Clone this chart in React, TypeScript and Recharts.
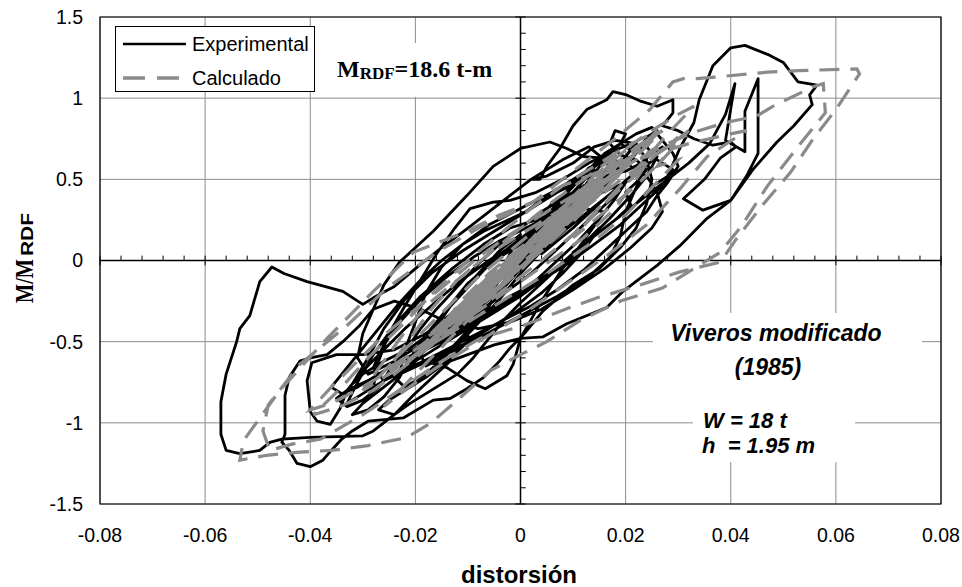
import {
  ComposedChart,
  Line,
  XAxis,
  YAxis,
  CartesianGrid,
  ReferenceLine,
  ReferenceArea,
  Legend,
} from "recharts";

type Pt = [number, number];

// axis ticks
const xTicks = [-0.08, -0.06, -0.04, -0.02, 0, 0.02, 0.04, 0.06, 0.08];
const yTicks = [-1.5, -1, -0.5, 0, 0.5, 1, 1.5];

// experimental (drift, M/M_RDF)
const expEarly: Pt[] = [
  [0, 0], [0.002, 0.09], [0.004, 0.19], [0.006, 0.27], [0.007, 0.33], [0.005, 0.28], [0.002, 0.15],
  [-0.001, 0.01], [-0.004, -0.12], [-0.006, -0.22], [-0.008, -0.31], [-0.006, -0.27], [-0.003, -0.15],
  [0, -0.03], [0.003, 0.12], [0.006, 0.25], [0.009, 0.37], [0.011, 0.43], [0.008, 0.36], [0.004, 0.2],
  [0, 0.04], [-0.005, -0.15], [-0.009, -0.3], [-0.012, -0.4], [-0.009, -0.35], [-0.005, -0.2], [-0.001, -0.05],
];

const expCycles: Pt[] = [
  [0.003, 0.1], [0.007, 0.25], [0.01, 0.36], [0.013, 0.46], [0.015, 0.5], [0.017, 0.57], [0.016, 0.62],
  [0.013, 0.57], [0.011, 0.5], [0.008, 0.4], [0.005, 0.27], [0.002, 0.14], [-0.002, 0], [-0.006, -0.16],
  [-0.01, -0.3], [-0.014, -0.42], [-0.017, -0.5], [-0.019, -0.58], [-0.018, -0.65], [-0.015, -0.6],
  [-0.012, -0.5], [-0.008, -0.36], [-0.004, -0.2], [0, -0.05], [0.004, 0.1], [0.008, 0.24], [0.012, 0.38],
  [0.016, 0.5], [0.019, 0.6], [0.021, 0.68], [0.019, 0.72], [0.016, 0.66], [0.013, 0.56], [0.009, 0.42],
  [0.005, 0.26], [0.001, 0.1], [-0.003, -0.06], [-0.008, -0.24], [-0.013, -0.4], [-0.017, -0.52],
  [-0.021, -0.64], [-0.024, -0.72], [-0.022, -0.78], [-0.018, -0.7], [-0.014, -0.58], [-0.009, -0.42],
  [-0.004, -0.24], [0, -0.08], [0.004, 0.06],
];

const expWide: Pt[] = [
  [0.009, 0.2], [0.014, 0.33], [0.019, 0.46], [0.023, 0.56], [0.026, 0.64], [0.024, 0.52], [0.021, 0.4],
  [0.017, 0.26], [0.012, 0.1], [0.007, -0.04], [0.002, -0.16], [-0.004, -0.3], [-0.01, -0.42],
  [-0.016, -0.54], [-0.021, -0.64], [-0.025, -0.72], [-0.028, -0.78], [-0.027, -0.62], [-0.025, -0.45],
  [-0.022, -0.28], [-0.019, -0.12], [-0.016, 0.04], [-0.0125, 0.2], [-0.0096, 0.32], [-0.0052, 0.36],
  [-0.002, 0.37], [0.003, 0.42], [0.008, 0.5], [0.013, 0.6], [0.018, 0.68], [0.022, 0.73], [0.02, 0.64],
  [0.016, 0.5], [0.012, 0.36], [0.007, 0.2], [0.002, 0.04], [-0.004, -0.12], [-0.01, -0.28],
  [-0.016, -0.42], [-0.021, -0.54], [-0.026, -0.62], [-0.03, -0.7], [-0.032, -0.76], [-0.029, -0.6],
  [-0.026, -0.42], [-0.022, -0.24], [-0.017, -0.08], [-0.011, 0.06], [-0.005, 0.18], [0.001, 0.3],
  [0.007, 0.42], [0.012, 0.5], [0.016, 0.55], [0.019, 0.6], [0.017, 0.5], [0.014, 0.38], [0.01, 0.25],
  [0.005, 0.1],
];

const expFat: Pt[] = [
  [0.004, 0.04], [0.01, 0.2], [0.016, 0.38], [0.021, 0.52], [0.024, 0.6], [0.022, 0.45], [0.02, 0.3],
  [0.019, 0.15], [0.017, 0.02], [0.013, -0.1], [0.007, -0.22], [0, -0.34], [-0.007, -0.46], [-0.013, -0.56],
  [-0.019, -0.64], [-0.023, -0.7], [-0.022, -0.55], [-0.02, -0.38], [-0.018, -0.2], [-0.015, -0.04],
  [-0.011, 0.1], [-0.006, 0.22], [0, 0.32], [0.006, 0.42], [0.011, 0.5], [0.014, 0.56], [0.01, 0.42],
  [0.006, 0.28], [0.002, 0.12], [-0.003, -0.04], [-0.007, -0.2], [-0.01, -0.36], [-0.01, -0.5],
  [-0.014, -0.62], [-0.018, -0.72], [-0.022, -0.8], [-0.025, -0.86], [-0.027, -0.92], [-0.024, -0.95],
  [-0.021, -0.88], [-0.017, -0.8], [-0.012, -0.7], [-0.009, -0.6], [-0.006, -0.48], [-0.003, -0.36],
  [0, -0.26], [0.004, -0.14], [0.008, -0.02], [0.012, 0.1], [0.015, 0.2], [0.012, 0.06], [0.008, -0.08],
  [0.004, -0.2], [-0.001, -0.32], [-0.006, -0.42], [-0.011, -0.52], [-0.016, -0.58], [-0.021, -0.66],
  [-0.026, -0.74], [-0.028, -0.66], [-0.026, -0.52], [-0.023, -0.38], [-0.019, -0.24], [-0.014, -0.1],
  [-0.009, 0.02], [-0.004, 0.12], [0.001, 0.2], [0.006, 0.28], [0.01, 0.34],
];

const expJagged: Pt[] = [
  [0.003, 0.25], [0.006, 0.35], [0.009, 0.42], [0.011, 0.5], [0.013, 0.55], [0.015, 0.6], [0.017, 0.66],
  [0.019, 0.72], [0.02, 0.78], [0.018, 0.8], [0.017, 0.72], [0.019, 0.65], [0.022, 0.62], [0.024, 0.56],
  [0.022, 0.48], [0.02, 0.42], [0.021, 0.34], [0.018, 0.25], [0.014, 0.15], [0.01, 0.02], [0.005, -0.1],
  [0, -0.22], [-0.005, -0.32], [-0.01, -0.42], [-0.015, -0.5], [-0.02, -0.58], [-0.025, -0.66],
  [-0.029, -0.74], [-0.033, -0.8], [-0.035, -0.85], [-0.033, -0.9], [-0.03, -0.86], [-0.027, -0.78],
  [-0.025, -0.68], [-0.022, -0.56], [-0.019, -0.42], [-0.016, -0.3], [-0.012, -0.16], [-0.008, -0.02],
  [-0.004, 0.1], [0, 0.2], [0.004, 0.3], [0.008, 0.38], [0.012, 0.46], [0.016, 0.52], [0.02, 0.55],
  [0.023, 0.6], [0.025, 0.66], [0.027, 0.7], [0.024, 0.64], [0.021, 0.52], [0.018, 0.4], [0.014, 0.28],
  [0.01, 0.16], [0.006, 0.04], [0.002, -0.08], [-0.003, -0.2], [-0.008, -0.32], [-0.013, -0.44],
  [-0.018, -0.54], [-0.023, -0.62], [-0.027, -0.7], [-0.031, -0.78], [-0.034, -0.82], [-0.036, -0.78],
  [-0.034, -0.7], [-0.032, -0.62], [-0.029, -0.5], [-0.026, -0.38], [-0.023, -0.26], [-0.019, -0.12],
  [-0.015, 0], [-0.011, 0.1], [-0.007, 0.18], [-0.003, 0.24], [0.001, 0.3], [0.005, 0.4], [0.009, 0.48],
  [0.013, 0.56], [0.016, 0.64], [0.018, 0.7],
];

const expJagged2: Pt[] = [
  [0.022, 0.78], [0.025, 0.82], [0.027, 0.74], [0.029, 0.66], [0.03, 0.58], [0.028, 0.48], [0.026, 0.4],
  [0.024, 0.3], [0.02, 0.18], [0.016, 0.06], [0.012, -0.06], [0.007, -0.18], [0.002, -0.28],
  [-0.004, -0.38], [-0.01, -0.48], [-0.016, -0.58], [-0.022, -0.68], [-0.026, -0.78], [-0.03, -0.88],
  [-0.032, -0.95], [-0.029, -0.92], [-0.026, -0.84], [-0.023, -0.72], [-0.021, -0.6], [-0.018, -0.48],
  [-0.015, -0.34], [-0.011, -0.2], [-0.007, -0.06], [-0.003, 0.06], [0.001, 0.16], [0.005, 0.24],
  [0.009, 0.32], [0.013, 0.38], [0.017, 0.44], [0.02, 0.48], [0.018, 0.38], [0.015, 0.26], [0.011, 0.12],
  [0.007, 0], [0.003, -0.12], [-0.002, -0.24], [-0.007, -0.34], [-0.012, -0.44], [-0.017, -0.52],
  [-0.021, -0.6], [-0.018, -0.46], [-0.014, -0.3], [-0.01, -0.14], [-0.005, 0], [0, 0.1], [0.004, 0.2],
  [0.008, 0.3], [0.012, 0.38], [0.015, 0.46], [0.018, 0.54], [0.021, 0.62], [0.023, 0.7], [0.024, 0.76],
  [0.026, 0.8], [0.024, 0.7], [0.026, 0.62], [0.029, 0.56], [0.027, 0.46], [0.023, 0.34], [0.019, 0.22],
  [0.014, 0.1], [0.009, -0.02], [0.004, -0.12], [-0.002, -0.22], [-0.008, -0.34], [-0.013, -0.44],
  [-0.018, -0.48], [-0.015, -0.36], [-0.012, -0.22], [-0.008, -0.08], [-0.004, 0.06], [0, 0.16],
];

const expUpperLeft: Pt[] = [
  [-0.006, -0.2], [-0.012, -0.36], [-0.018, -0.5], [-0.024, -0.62], [-0.029, -0.7],
  [-0.031, -0.6], [-0.03, -0.45], [-0.028, -0.3], [-0.026, -0.15], [-0.023, -0.01], [-0.0166, 0.18],
  [-0.0102, 0.4], [-0.0052, 0.58], [0, 0.69], [0.0056, 0.73], [0.0088, 0.69], [0.012, 0.64],
  [0.016, 0.63], [0.02, 0.6], [0.024, 0.52], [0.026, 0.42], [0.027, 0.3], [0.025, 0.2], [0.021, 0.08],
  [0.016, -0.05], [0.01, -0.18], [0.004, -0.3], [-0.002, -0.38], [-0.008, -0.42], [-0.014, -0.38],
  [-0.019, -0.3], [-0.024, -0.25],
];

const expBottomLoop: Pt[] = [
  [-0.028, -0.3], [-0.0306, -0.4], [-0.0338, -0.5], [-0.0368, -0.58], [-0.04, -0.6], [-0.042, -0.62],
  [-0.044, -0.72], [-0.0448, -0.83], [-0.0448, -0.95], [-0.0448, -1.07], [-0.0454, -1.12], [-0.044, -1.17],
  [-0.0425, -1.25], [-0.04, -1.27], [-0.0376, -1.23], [-0.036, -1.17], [-0.034, -1.1], [-0.032, -1.05],
  [-0.029, -0.99], [-0.0223, -0.97], [-0.0166, -0.86], [-0.0134, -0.85], [-0.0102, -0.79], [-0.007, -0.72],
  [-0.004, -0.62], [-0.002, -0.54], [0.001, -0.44], [0.0043, -0.31], [0.01, -0.15], [0.015, -0.05],
  [0.019, 0.08], [0.022, 0.2], [0.024, 0.35], [0.025, 0.5], [0.024, 0.62], [0.022, 0.72],
];

const expTopLoops: Pt[] = [
  [0.018, 0.74], [0.014, 0.7], [0.01, 0.6], [0.005, 0.52], [0.002, 0.5], [0.0037, 0.5], [0.005, 0.58],
  [0.0075, 0.69], [0.01, 0.83], [0.0126, 0.93], [0.0164, 0.99], [0.0176, 1.04], [0.0202, 1.02],
  [0.023, 0.98], [0.026, 0.95], [0.029, 0.99], [0.029, 0.91], [0.027, 0.83], [0.03, 0.8], [0.033, 0.75],
  [0.0366, 0.71], [0.04, 0.73], [0.041, 0.7], [0.038, 0.63], [0.035, 0.5], [0.031, 0.38], [0.0347, 0.31],
  [0.04, 0.37], [0.043, 0.52], [0.0452, 0.66], [0.0452, 1.12], [0.0427, 0.92], [0.0427, 0.67],
  [0.039, 0.74], [0.0408, 1.09], [0.039, 0.9], [0.036, 0.72], [0.032, 0.6], [0.028, 0.5], [0.022, 0.35],
  [0.016, 0.2], [0.01, 0.05],
];

const expBigCycle: Pt[] = [
  [0.014, 0.15], [0.018, 0.25], [0.022, 0.35], [0.0252, 0.46], [0.028, 0.52], [0.0303, 0.69], [0.033, 0.85],
  [0.034, 0.99], [0.0366, 1.2], [0.04, 1.31], [0.0427, 1.325], [0.047, 1.27], [0.05, 1.22], [0.0528, 1.1],
  [0.0564, 1.08], [0.055, 1.02], [0.0555, 0.96], [0.052, 0.83], [0.0488, 0.73], [0.0442, 0.56],
  [0.04, 0.37], [0.0355, 0.26], [0.0303, 0.09], [0.026, -0.03], [0.0195, -0.19], [0.0164, -0.29],
  [0.0088, -0.39], [0.0043, -0.47], [0, -0.48], [-0.005, -0.52], [-0.0134, -0.62], [-0.0204, -0.83],
  [-0.024, -0.95], [-0.028, -1.05], [-0.03, -1.08], [-0.04, -1.09], [-0.0454, -1.1], [-0.0477, -1.12],
  [-0.0496, -1.17], [-0.0534, -1.19], [-0.056, -1.17], [-0.057, -1.07], [-0.057, -0.87], [-0.056, -0.7],
  [-0.054, -0.5], [-0.0534, -0.42], [-0.0515, -0.34], [-0.0496, -0.13], [-0.0473, -0.04], [-0.045, -0.08],
  [-0.0406, -0.13], [-0.0338, -0.19], [-0.03, -0.27], [-0.028, -0.23], [-0.024, -0.16], [-0.02, -0.05],
  [-0.015, 0.08], [-0.01, 0.2], [-0.004, 0.35], [0.002, 0.5], [0.008, 0.62], [0.013, 0.7], [0.016, 0.62],
  [0.012, 0.45], [0.006, 0.25], [0, 0.05],
];

const expLate: Pt[] = [
  [-0.006, -0.12], [-0.012, -0.3], [-0.018, -0.45], [-0.024, -0.55], [-0.03, -0.58], [-0.035, -0.58],
  [-0.0397, -0.63], [-0.0406, -0.74], [-0.04, -0.93], [-0.0387, -0.99], [-0.0362, -1.01], [-0.0343, -0.91],
  [-0.033, -0.8], [-0.03, -0.68], [-0.026, -0.55], [-0.022, -0.42], [-0.017, -0.28], [-0.012, -0.14],
  [-0.006, 0], [0, 0.12], [0.006, 0.24], [0.012, 0.32], [0.016, 0.3], [0.012, 0.12], [0.008, -0.05],
  [0.004, -0.25], [0, -0.48], [-0.0014, -0.64], [-0.0026, -0.71], [-0.0067, -0.79], [-0.0102, -0.74],
  [-0.014, -0.66], [-0.018, -0.62], [-0.022, -0.66], [-0.026, -0.74], [-0.03, -0.82], [-0.033, -0.88],
  [-0.031, -0.75], [-0.028, -0.58], [-0.024, -0.4], [-0.019, -0.22], [-0.013, -0.05], [-0.007, 0.1],
  [-0.002, 0.2], [0.003, 0.25],
];

// calculated (model) response
const calcEarly: Pt[] = [
  [0, 0], [0.003, 0.12], [0.006, 0.24], [0.008, 0.31], [0.005, 0.2], [0, 0.02], [-0.004, -0.12],
  [-0.008, -0.26], [-0.01, -0.32], [-0.006, -0.18], [-0.001, 0], [0.004, 0.18], [0.009, 0.34],
  [0.012, 0.44], [0.008, 0.32], [0.002, 0.1], [-0.004, -0.1], [-0.009, -0.28], [-0.013, -0.42],
  [-0.009, -0.28], [-0.003, -0.06], [0.003, 0.14], [0.009, 0.34], [0.014, 0.5], [0.016, 0.56],
  [0.011, 0.42], [0.005, 0.22], [-0.001, 0.02], [-0.007, -0.18], [-0.013, -0.38], [-0.017, -0.5],
  [-0.012, -0.36], [-0.006, -0.16], [0, 0.04], [0.006, 0.24], [0.012, 0.44], [0.018, 0.62], [0.02, 0.68],
  [0.014, 0.52], [0.007, 0.3], [0, 0.06], [-0.007, -0.18], [-0.014, -0.4], [-0.02, -0.58], [-0.022, -0.64],
  [-0.016, -0.48], [-0.009, -0.26], [-0.002, -0.04], [0.005, 0.18], [0.012, 0.4], [0.019, 0.6], [0.024, 0.74],
];

const calcCentre: Pt[] = [
  [0.02, 0.6], [0.014, 0.44], [0.009, 0.3], [0.005, 0.2], [0, 0.08], [-0.005, -0.06], [-0.009, -0.2],
  [-0.005, -0.1], [0, 0.02], [0.005, 0.14], [0.01, 0.26], [0.006, 0.16], [0.001, 0.04], [-0.004, -0.08],
  [-0.008, -0.18], [-0.012, -0.3], [-0.008, -0.16], [-0.003, -0.02], [0.002, 0.12], [0.007, 0.24],
  [0.011, 0.32], [0.007, 0.2], [0.002, 0.08], [-0.003, -0.04], [-0.008, -0.16], [-0.004, -0.04],
  [0.001, 0.08], [0.006, 0.2], [0.01, 0.34], [0.02, 0.58], [0.026, 0.7], [0.022, 0.5], [0.018, 0.32],
  [0.012, 0.14], [0.004, -0.04], [-0.004, -0.22], [-0.012, -0.4], [-0.02, -0.56], [-0.025, -0.66],
  [-0.021, -0.48], [-0.017, -0.3], [-0.012, -0.12], [-0.006, 0.04], [0, 0.16], [0.006, 0.28],
  [0.012, 0.4], [0.018, 0.52], [0.024, 0.74],
];

const calcMid: Pt[] = [
  [0.027, 0.8], [0.022, 0.64], [0.016, 0.44], [0.01, 0.24], [0.004, 0.06], [-0.002, -0.1], [-0.008, -0.26],
  [-0.014, -0.42], [-0.02, -0.58], [-0.026, -0.72], [-0.03, -0.8], [-0.026, -0.62], [-0.022, -0.44],
  [-0.018, -0.28], [-0.012, -0.12], [-0.006, 0.04], [0, 0.2], [0.006, 0.36], [0.012, 0.5], [0.018, 0.64],
  [0.024, 0.78], [0.03, 0.9], [0.033, 0.95], [0.028, 0.78], [0.022, 0.56], [0.016, 0.36], [0.01, 0.16],
  [0.004, 0], [-0.004, -0.2], [-0.012, -0.4], [-0.02, -0.6], [-0.028, -0.8], [-0.0343, -0.9],
  [-0.0394, -0.95], [-0.0343, -0.79], [-0.029, -0.6], [-0.022, -0.38], [-0.016, -0.18], [-0.01, 0],
  [-0.004, 0.16], [0.002, 0.32], [0.008, 0.46], [0.014, 0.58], [0.02, 0.7], [0.026, 0.8],
];

const calcDense: Pt[] = [
  [0.021, 0.64], [0.017, 0.56], [0.012, 0.42], [0.007, 0.26], [0.002, 0.1], [-0.003, -0.06], [-0.008, -0.22],
  [-0.013, -0.36], [-0.018, -0.5], [-0.023, -0.62], [-0.027, -0.72], [-0.023, -0.58], [-0.018, -0.42],
  [-0.013, -0.26], [-0.008, -0.1], [-0.002, 0.06], [0.004, 0.22], [0.01, 0.38], [0.016, 0.54], [0.022, 0.7],
  [0.026, 0.78], [0.02, 0.6], [0.014, 0.42], [0.008, 0.24], [0.002, 0.06], [-0.004, -0.12], [-0.01, -0.3],
  [-0.016, -0.46], [-0.012, -0.3], [-0.006, -0.12], [0, 0.04], [0.006, 0.2], [0.012, 0.34], [0.009, 0.22],
  [0.004, 0.06], [-0.002, -0.1], [-0.006, -0.22], [-0.002, -0.08], [0.003, 0.06], [0.007, 0.18],
  [0.011, 0.3], [0.015, 0.42], [0.01, 0.26], [0.005, 0.1], [0, -0.06], [-0.005, -0.2], [-0.01, -0.34],
  [-0.014, -0.46], [-0.019, -0.56], [-0.015, -0.42], [-0.01, -0.26], [-0.005, -0.1], [0, 0.06],
  [0.005, 0.2], [0.01, 0.34],
];

const calcBlob: Pt[] = [
  [0.004, 0.16], [-0.002, -0.02], [-0.008, -0.2], [-0.013, -0.34], [-0.009, -0.2], [-0.004, -0.06],
  [0.002, 0.1], [0.008, 0.26], [0.013, 0.4], [0.017, 0.5], [0.012, 0.34], [0.006, 0.18], [0, 0.02],
  [-0.006, -0.14], [-0.011, -0.28], [-0.015, -0.4], [-0.011, -0.24], [-0.006, -0.08], [0, 0.08],
  [0.006, 0.22], [0.011, 0.36], [0.015, 0.46], [0.01, 0.3], [0.004, 0.12], [-0.002, -0.04], [-0.007, -0.18],
  [-0.003, -0.04], [0.002, 0.1], [0.007, 0.22], [0.012, 0.36], [0.008, 0.22], [0.003, 0.06], [-0.003, -0.1],
  [-0.009, -0.26], [-0.014, -0.38], [-0.018, -0.48], [-0.013, -0.32], [-0.007, -0.14], [-0.001, 0.02],
  [0.005, 0.18], [0.011, 0.34], [0.016, 0.48], [0.021, 0.6], [0.016, 0.44], [0.01, 0.28], [0.004, 0.1],
  [0.012, 0.32], [0.02, 0.52], [0.028, 0.7], [0.032, 0.8], [0.027, 0.62], [0.022, 0.46], [0.016, 0.3],
  [0.01, 0.14], [0.015, 0.32], [0.021, 0.5], [0.026, 0.66], [0.03, 0.76],
];

const calcLower: Pt[] = [
  [0.026, 0.58], [0.03, 0.62], [0.025, 0.45], [0.02, 0.28], [0.014, 0.12], [0.006, -0.06],
  [-0.002, -0.22], [-0.01, -0.38], [-0.018, -0.54], [-0.024, -0.66], [-0.03, -0.78], [-0.036, -0.88],
  [-0.04, -0.92], [-0.036, -0.78], [-0.031, -0.62], [-0.026, -0.46], [-0.02, -0.3], [-0.014, -0.14],
  [-0.008, 0.02], [-0.002, 0.16], [0.004, 0.28], [0.01, 0.4], [0.016, 0.5], [0.022, 0.62], [0.028, 0.72],
  [0.033, 0.79],
];

const calcOuter: Pt[] = [
  [0.039, 0.85], [0.045, 0.89], [0.048, 0.95], [0.0557, 1.07], [0.0576, 1.09], [0.058, 0.91],
  [0.053, 0.71], [0.047, 0.46], [0.042, 0.21], [0.038, 0.05], [0.027, -0.17], [0.019, -0.25],
  [0.0113, -0.37], [0.005, -0.5], [0, -0.58], [-0.0058, -0.68], [-0.012, -0.86], [-0.017, -1], [-0.0216, -1.09],
  [-0.029, -1.14], [-0.036, -1.17], [-0.042, -1.18], [-0.0483, -1.2], [-0.0534, -1.23], [-0.0527, -1.11],
  [-0.0458, -0.8], [-0.0368, -0.48], [-0.028, -0.19], [-0.0204, 0.05], [-0.0102, 0.18], [-0.004, 0.28],
  [0.0024, 0.36], [0.01, 0.55], [0.018, 0.75], [0.0246, 0.93], [0.029, 1.1], [0.031, 1.12], [0.0336, 1.12],
  [0.037, 1.13], [0.047, 1.16], [0.053, 1.17], [0.064, 1.18], [0.0645, 1.15], [0.06, 0.93], [0.0557, 0.75],
  [0.0513, 0.54], [0.046, 0.34], [0.041, 0.13], [0.038, -0.01], [0.0303, -0.07], [0.0228, -0.15],
  [0.0146, -0.23], [0.0094, -0.29], [0.0005, -0.4], [-0.0077, -0.48], [-0.016, -0.64], [-0.024, -0.82],
  [-0.03, -0.95], [-0.038, -1.1], [-0.0433, -1.13], [-0.0477, -1.17], [-0.049, -1.05], [-0.048, -0.89],
  [-0.042, -0.64], [-0.033, -0.4], [-0.0254, -0.17], [-0.016, 0.05], [-0.008, 0.2], [0, 0.32],
];

const calcLate: Pt[] = [
  [0.008, 0.46], [0.016, 0.56], [0.024, 0.64], [0.032, 0.72], [0.04, 0.78], [0.043, 0.8], [0.0355, 0.64],
  [0.0303, 0.44], [0.024, 0.22], [0.016, 0.02], [0.008, -0.16], [0, -0.34], [-0.008, -0.5], [-0.016, -0.66],
  [-0.022, -0.8], [-0.026, -0.9], [-0.02, -0.7], [-0.014, -0.5], [-0.008, -0.3], [-0.002, -0.1], [0.004, 0.1],
  [0.01, 0.3], [0.016, 0.48], [0.012, 0.34], [0.006, 0.14], [0, -0.04], [-0.006, -0.22], [-0.012, -0.4],
  [-0.008, -0.26], [-0.002, -0.06], [0.004, 0.14], [0.008, 0.26],
];

const toRows = (parts: Pt[][]) => parts.flat().map(([x, y]) => ({ x, y }));

const experimental = toRows([
  expEarly, expCycles, expWide, expFat, expJagged, expJagged2, expUpperLeft, expBottomLoop, expTopLoops,
  expBigCycle, expLate,
]);
const calculado = toRows([calcEarly, calcCentre, calcMid, calcDense, calcBlob, calcLower, calcOuter, calcLate]);

// small ticks on the axes through the origin
const xMinor = Array.from({ length: 41 }, (_, i) => Math.round((-0.08 + i * 0.004) * 1000) / 1000);
const yMinor = Array.from({ length: 31 }, (_, i) => Math.round((-1.5 + i * 0.1) * 10) / 10);

const SANS = "'Liberation Sans', Arial, sans-serif";
const SERIF = "'Liberation Serif', 'Times New Roman', serif";
const GRAY = "#8a8a8a";

function LegendBox() {
  return (
    <div
      style={{
        width: 198,
        height: 64,
        background: "#fff",
        border: "1px solid #000",
        fontFamily: SANS,
        fontSize: 20,
        color: "#000",
        position: "relative",
      }}
    >
      <svg width={70} height={64} style={{ position: "absolute", left: 0, top: 0 }}>
        <line x1={7} y1={17} x2={70} y2={17} stroke="#000" strokeWidth={2.6} />
        <line x1={7} y1={51} x2={66} y2={51} stroke={GRAY} strokeWidth={3.5} strokeDasharray="22 12" />
      </svg>
      <div style={{ position: "absolute", left: 76, top: 5, lineHeight: "24px" }}>Experimental</div>
      <div style={{ position: "absolute", left: 76, top: 39, lineHeight: "24px" }}>Calculado</div>
    </div>
  );
}

export default function App() {
  return (
    <div style={{ position: "absolute", left: 0, top: 0, width: 962, height: 587, background: "#fff" }}>
      <ComposedChart width={962} height={587} margin={{ top: 17, right: 21, bottom: 43, left: 40 }}>
        <CartesianGrid stroke="#8c8c8c" strokeWidth={1} horizontalValues={yTicks} verticalValues={xTicks} />
        <XAxis
          type="number"
          dataKey="x"
          domain={[-0.08, 0.08]}
          ticks={xTicks}
          allowDataOverflow
          interval={0}
          tickLine={false}
          axisLine={false}
          tickSize={0}
          tickMargin={24}
          height={40}
          tick={{ fill: "#000", fontSize: 19.5, fontFamily: SANS }}
        />
        <YAxis
          type="number"
          dataKey="y"
          domain={[-1.5, 1.5]}
          ticks={yTicks}
          allowDataOverflow
          interval={0}
          tickLine={false}
          axisLine={false}
          tickSize={0}
          tickMargin={17}
          width={60}
          tick={{ fill: "#000", fontSize: 19.5, fontFamily: SANS }}
        />
        <ReferenceArea x1={-0.08} x2={0.08} y1={-1.5} y2={1.5} fill="none" stroke="#000" strokeWidth={1.2} />
        <ReferenceLine y={0} stroke="#000" strokeWidth={1.5} />
        <ReferenceLine x={0} stroke="#000" strokeWidth={1.5} />
        {xMinor.map((t) => {
          const major = Math.abs(Math.round(t * 50) - t * 50) < 1e-6;
          return (
            <ReferenceLine
              key={`xt${t}`}
              segment={[{ x: t, y: major ? -0.03 : 0 }, { x: t, y: 0.03 }]}
              stroke="#000"
              strokeWidth={1}
            />
          );
        })}
        {yMinor.map((t) => {
          const major = Math.abs(Math.round(t * 2) - t * 2) < 1e-6;
          return (
            <ReferenceLine
              key={`yt${t}`}
              segment={[{ x: major ? -0.001 : 0, y: t }, { x: 0.001, y: t }]}
              stroke="#000"
              strokeWidth={1}
            />
          );
        })}
        <Line
          data={experimental}
          dataKey="y"
          name="Experimental"
          type="linear"
          stroke="#000"
          strokeWidth={2.8}
          strokeLinejoin="round"
          dot={false}
          activeDot={false}
          isAnimationActive={false}
        />
        <Line
          data={calculado}
          dataKey="y"
          name="Calculado"
          type="linear"
          stroke={GRAY}
          strokeWidth={3.2}
          strokeDasharray="20 11"
          dot={false}
          activeDot={false}
          isAnimationActive={false}
        />
        <Legend
          layout="vertical"
          align="center"
          verticalAlign="middle"
          content={() => <LegendBox />}
          wrapperStyle={{ position: "absolute", left: 115, top: 26, width: 200, height: 66 }}
        />
      </ComposedChart>

      <svg
        width={962}
        height={587}
        style={{ position: "absolute", left: 0, top: 0, pointerEvents: "none" }}
      >
        <rect x={330} y={43} width={175} height={54} fill="#fff" />
        <text x={337} y={77} fontFamily={SERIF} fontWeight="bold" fill="#000">
          <tspan fontSize={24}>M</tspan>
          <tspan fontSize={17} dy={2}>RDF</tspan>
          <tspan fontSize={24} dy={-2}>=18.6 t-m</tspan>
        </text>

        <rect x={653} y={313} width={269} height={78} fill="#fff" />
        <rect x={693} y={390} width={162} height={72} fill="#fff" />
        <g fontFamily={SANS} fontWeight="bold" fontStyle="italic" fill="#000">
          <text x={776} y={341} textAnchor="middle" fontSize={23}>Viveros modificado</text>
          <text x={768} y={375} textAnchor="middle" fontSize={23}>(1985)</text>
          <text x={703} y={428} fontSize={22}>W = 18 t</text>
          <text x={702} y={453} fontSize={22}>{"h\u00a0 = 1.95 m"}</text>
        </g>

        <g transform="translate(33,258) rotate(-90)" fill="#000" fontWeight="bold">
          <text x={-45} y={0} fontFamily={SERIF} fontSize={26} textLength={44} lengthAdjust="spacingAndGlyphs">
            M/M
          </text>
          <text x={2} y={0} fontFamily={SANS} fontSize={17} textLength={43} lengthAdjust="spacingAndGlyphs">
            RDF
          </text>
        </g>

        <text x={519} y={583} textAnchor="middle" fontFamily={SANS} fontWeight="bold" fontSize={24} fill="#000">
          distorsión
        </text>
      </svg>
    </div>
  );
}
